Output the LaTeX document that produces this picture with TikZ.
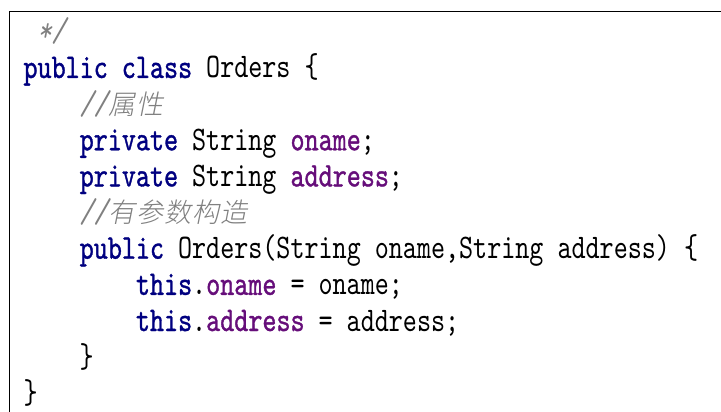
\documentclass[tikz,border=0pt]{standalone}
\usepackage{fontspec}
\newfontfamily\cR{lmmono10-regular.otf}[FakeStretch=0.776]
\newfontfamily\cB{lmmono10-regular.otf}[FakeStretch=0.776,FakeBold=1.0]
\newfontfamily\cI{lmmono10-italic.otf}[FakeStretch=0.776]
\newfontfamily\cjk{Noto Sans CJK SC Light}[FakeSlant=0.2]
\definecolor{kw}{HTML}{000080}
\definecolor{fld}{HTML}{660E7A}
\definecolor{cmt}{HTML}{808080}
\newdimen\cw \cw=14.055pt
\newcommand\SP{\hbox to \cw{}}
\newcommand\KW[1]{{\cB\color{kw}#1}}
\newcommand\FD[1]{{\cB\color{fld}#1}}
\newcommand\CM[1]{{\cI\color{cmt}#1}}
\newcommand\CC[1]{\makebox[2\cw]{\cjk\fontsize{27}{27}\selectfont\color{cmt}#1}}
\tikzset{codeline/.style={anchor=base west,inner sep=0pt,outer sep=0pt,
  font=\cR\fontsize{34.5}{36}\selectfont,text=black}}
\begin{document}
\begin{tikzpicture}[x=1pt,y=-1pt]
\useasboundingbox (0,0) rectangle (721,412);
\fill[white] (0,0) rectangle (721,412);
\draw[line width=1.3pt] (9.8,413) -- (9.8,11.5) -- (722,11.5);
\def\X#1{23.5+#1*14.055}
\def\Y#1{41.8+#1*36.15}
\node[codeline] (l0) at ({\X{1}},{\Y{0}}) {\CM{*/}};
\node[codeline] (l1) at ({\X{0}},{\Y{1}}) {\KW{public\SP{}class}\SP{}Orders\SP\{};
\node[codeline] (l2) at ({\X{4}},{\Y{2}}) {\CM{//}\CC{属}\CC{性}};
\node[codeline] (l3) at ({\X{4}},{\Y{3}}) {\KW{private}\SP{}String\SP\FD{oname};};
\node[codeline] (l4) at ({\X{4}},{\Y{4}}) {\KW{private}\SP{}String\SP\FD{address};};
\node[codeline] (l5) at ({\X{4}},{\Y{5}}) {\CM{//}\CC{有}\CC{参}\CC{数}\CC{构}\CC{造}};
\node[codeline] (l6) at ({\X{4}},{\Y{6}}) {\KW{public}\SP{}Orders(String\SP{}oname,String\SP{}address)\SP\{};
\node[codeline] (l7) at ({\X{8}},{\Y{7}}) {\KW{this}.\FD{oname}\SP=\SP{}oname;};
\node[codeline] (l8) at ({\X{8}},{\Y{8}}) {\KW{this}.\FD{address}\SP=\SP{}address;};
\node[codeline] (l9) at ({\X{4}},{\Y{9}}) {\}};
\node[codeline] (l10) at ({\X{0}},{\Y{10}}) {\}};
\end{tikzpicture}
\end{document}
